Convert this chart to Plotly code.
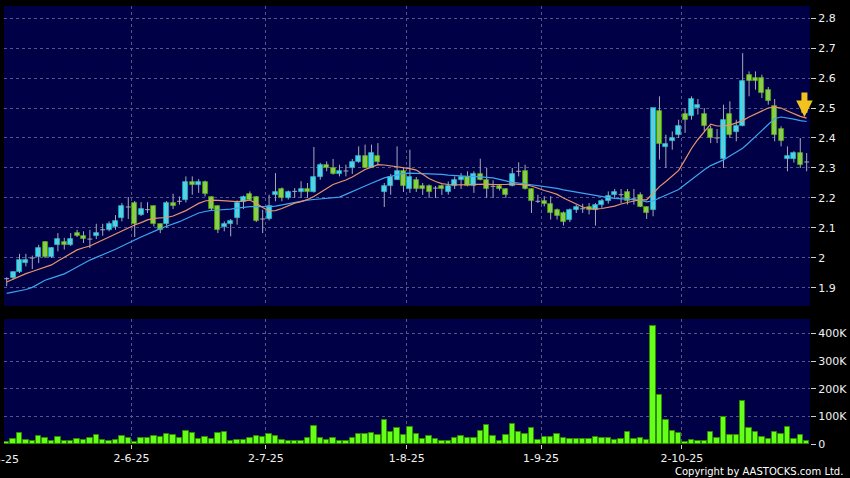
import plotly.graph_objects as go

# ---------------- data ----------------
opens = [1.931, 1.933, 1.952, 1.983, 2.000, 2.002, 2.053, 2.002, 2.043, 2.053,
         2.043, 2.083, 2.073, 2.063, 2.073, 2.094, 2.094, 2.103, 2.133, 2.170,
         2.183, 2.144, 2.161, 2.172, 2.113, 2.113, 2.183, 2.189, 2.192, 2.253,
         2.243, 2.253, 2.202, 2.173, 2.103, 2.113, 2.133, 2.186, 2.213, 2.203,
         2.130, 2.130, 2.210, 2.230, 2.200, 2.222, 2.220, 2.230, 2.220, 2.270,
         2.309, 2.300, 2.280, 2.290, 2.300, 2.320, 2.339, 2.300, 2.339, 2.220,
         2.241, 2.261, 2.289, 2.230, 2.259, 2.239, 2.239, 2.233, 2.239, 2.219,
         2.241, 2.259, 2.270, 2.241, 2.280, 2.259, 2.239, 2.239, 2.230, 2.239,
         2.289, 2.289, 2.230, 2.189, 2.191, 2.180, 2.161, 2.150, 2.128, 2.159,
         2.164, 2.170, 2.159, 2.178, 2.189, 2.211, 2.211, 2.219, 2.197, 2.211,
         2.170, 2.159, 2.489, 2.370, 2.389, 2.411, 2.481, 2.472, 2.500, 2.480,
         2.430, 2.400, 2.330, 2.480, 2.420, 2.441, 2.610, 2.600, 2.600, 2.561,
         2.508, 2.430, 2.330, 2.330, 2.350, 2.320]
highs = [1.936, 1.955, 2.014, 2.014, 2.008, 2.044, 2.056, 2.036, 2.083, 2.067,
         2.083, 2.094, 2.089, 2.094, 2.114, 2.114, 2.122, 2.143, 2.183, 2.203,
         2.190, 2.186, 2.186, 2.175, 2.115, 2.190, 2.214, 2.205, 2.272, 2.272,
         2.263, 2.258, 2.205, 2.175, 2.122, 2.130, 2.192, 2.208, 2.222, 2.206,
         2.161, 2.211, 2.283, 2.235, 2.225, 2.233, 2.256, 2.250, 2.370, 2.317,
         2.322, 2.330, 2.311, 2.311, 2.330, 2.372, 2.378, 2.378, 2.383, 2.250,
         2.280, 2.372, 2.300, 2.361, 2.270, 2.250, 2.245, 2.240, 2.245, 2.255,
         2.272, 2.283, 2.289, 2.289, 2.331, 2.300, 2.259, 2.245, 2.232, 2.300,
         2.319, 2.311, 2.232, 2.211, 2.206, 2.206, 2.165, 2.155, 2.165, 2.178,
         2.181, 2.183, 2.183, 2.197, 2.222, 2.230, 2.230, 2.230, 2.230, 2.219,
         2.172, 2.500, 2.539, 2.411, 2.422, 2.461, 2.500, 2.539, 2.530, 2.500,
         2.441, 2.430, 2.511, 2.522, 2.461, 2.683, 2.622, 2.622, 2.611, 2.570,
         2.530, 2.439, 2.372, 2.356, 2.400, 2.350]
lows = [1.906, 1.928, 1.950, 1.972, 1.963, 1.983, 2.000, 2.000, 2.022, 2.028,
        2.040, 2.070, 2.050, 2.033, 2.063, 2.074, 2.089, 2.094, 2.122, 2.130,
        2.070, 2.140, 2.150, 2.105, 2.083, 2.100, 2.163, 2.178, 2.185, 2.211,
        2.217, 2.205, 2.160, 2.083, 2.089, 2.072, 2.111, 2.163, 2.190, 2.120,
        2.083, 2.125, 2.189, 2.189, 2.195, 2.200, 2.200, 2.200, 2.218, 2.261,
        2.289, 2.278, 2.272, 2.272, 2.280, 2.317, 2.300, 2.300, 2.311, 2.170,
        2.211, 2.261, 2.220, 2.217, 2.220, 2.210, 2.200, 2.200, 2.210, 2.211,
        2.230, 2.230, 2.239, 2.217, 2.259, 2.200, 2.200, 2.225, 2.200, 2.239,
        2.272, 2.228, 2.150, 2.183, 2.172, 2.128, 2.128, 2.108, 2.120, 2.150,
        2.150, 2.145, 2.108, 2.167, 2.181, 2.200, 2.183, 2.178, 2.178, 2.170,
        2.130, 2.139, 2.328, 2.300, 2.361, 2.400, 2.417, 2.461, 2.478, 2.422,
        2.383, 2.383, 2.300, 2.400, 2.389, 2.439, 2.539, 2.561, 2.533, 2.511,
        2.389, 2.372, 2.289, 2.318, 2.300, 2.289]
closes = [1.931, 1.952, 1.992, 1.992, 2.000, 2.033, 2.002, 2.033, 2.063, 2.043,
          2.063, 2.073, 2.063, 2.063, 2.083, 2.094, 2.113, 2.123, 2.174, 2.170,
          2.113, 2.163, 2.161, 2.113, 2.094, 2.183, 2.172, 2.189, 2.253, 2.243,
          2.253, 2.213, 2.163, 2.094, 2.113, 2.123, 2.183, 2.203, 2.193, 2.124,
          2.130, 2.174, 2.221, 2.200, 2.220, 2.222, 2.230, 2.220, 2.270, 2.309,
          2.300, 2.280, 2.290, 2.290, 2.320, 2.339, 2.300, 2.350, 2.320, 2.241,
          2.270, 2.290, 2.239, 2.270, 2.230, 2.230, 2.219, 2.233, 2.230, 2.239,
          2.259, 2.270, 2.239, 2.280, 2.259, 2.230, 2.239, 2.230, 2.209, 2.280,
          2.289, 2.230, 2.189, 2.189, 2.180, 2.150, 2.139, 2.119, 2.159, 2.170,
          2.164, 2.159, 2.178, 2.189, 2.208, 2.219, 2.211, 2.189, 2.197, 2.170,
          2.150, 2.500, 2.381, 2.381, 2.400, 2.441, 2.461, 2.530, 2.510, 2.441,
          2.400, 2.400, 2.459, 2.411, 2.441, 2.591, 2.591, 2.591, 2.550, 2.522,
          2.411, 2.389, 2.341, 2.350, 2.311, 2.320]
volumes_k = [8, 19, 39, 14, 12, 28, 20, 12, 24, 11,
             12, 19, 14, 23, 34, 13, 12, 16, 30, 23,
             8, 20, 20, 30, 25, 36, 34, 22, 47, 39,
             17, 27, 18, 39, 43, 11, 16, 16, 23, 29,
             24, 36, 28, 14, 10, 10, 10, 23, 65, 20,
             13, 23, 12, 12, 22, 36, 35, 40, 33, 88,
             42, 58, 34, 60, 36, 19, 30, 18, 12, 12,
             20, 28, 23, 23, 48, 70, 30, 12, 33, 72,
             45, 36, 58, 16, 24, 27, 36, 20, 18, 18,
             18, 18, 27, 22, 22, 16, 18, 45, 18, 23,
             16, 428, 177, 87, 48, 40, 8, 14, 10, 11,
             42, 23, 99, 34, 34, 157, 58, 42, 24, 19,
             45, 36, 63, 19, 33, 12]
ma10 = [1.920, 1.930, 1.940, 1.948, 1.955, 1.962, 1.970, 1.977, 1.990, 2.003,
        2.015, 2.027, 2.034, 2.040, 2.050, 2.060, 2.070, 2.080, 2.092, 2.100,
        2.110, 2.118, 2.127, 2.132, 2.134, 2.135, 2.140, 2.148, 2.158, 2.170,
        2.182, 2.190, 2.193, 2.192, 2.190, 2.188, 2.188, 2.190, 2.193, 2.182,
        2.168, 2.157, 2.158, 2.165, 2.175, 2.183, 2.188, 2.195, 2.205, 2.220,
        2.232, 2.245, 2.252, 2.260, 2.270, 2.283, 2.295, 2.303, 2.311, 2.310,
        2.307, 2.305, 2.302, 2.298, 2.293, 2.280, 2.265, 2.255, 2.248, 2.245,
        2.244, 2.244, 2.245, 2.246, 2.247, 2.246, 2.245, 2.244, 2.245, 2.247,
        2.246, 2.244, 2.240, 2.232, 2.225, 2.219, 2.212, 2.200, 2.190, 2.180,
        2.170, 2.165, 2.163, 2.165, 2.169, 2.173, 2.180, 2.186, 2.190, 2.194,
        2.194, 2.215, 2.238, 2.255, 2.272, 2.292, 2.328, 2.365, 2.395, 2.422,
        2.446, 2.440, 2.440, 2.443, 2.450, 2.458, 2.470, 2.480, 2.490, 2.500,
        2.503, 2.500, 2.490, 2.480, 2.472, 2.466]
ma20 = [1.882, 1.886, 1.890, 1.895, 1.902, 1.915, 1.926, 1.933, 1.940, 1.947,
        1.958, 1.970, 1.982, 1.993, 2.002, 2.010, 2.020, 2.029, 2.040, 2.050,
        2.060, 2.070, 2.080, 2.089, 2.098, 2.106, 2.113, 2.121, 2.131, 2.140,
        2.150, 2.155, 2.159, 2.160, 2.161, 2.163, 2.166, 2.169, 2.171, 2.171,
        2.170, 2.171, 2.173, 2.177, 2.182, 2.186, 2.190, 2.193, 2.195, 2.197,
        2.199, 2.201, 2.203, 2.212, 2.222, 2.231, 2.240, 2.249, 2.258, 2.267,
        2.272, 2.278, 2.282, 2.283, 2.282, 2.281, 2.281, 2.281, 2.279, 2.276,
        2.274, 2.273, 2.272, 2.272, 2.270, 2.269, 2.267, 2.262, 2.257, 2.252,
        2.250, 2.247, 2.244, 2.242, 2.240, 2.237, 2.232, 2.227, 2.223, 2.220,
        2.217, 2.213, 2.209, 2.205, 2.201, 2.199, 2.197, 2.196, 2.195, 2.193,
        2.187, 2.190, 2.200, 2.210, 2.219, 2.228, 2.245, 2.262, 2.278, 2.294,
        2.308, 2.317, 2.327, 2.340, 2.353, 2.366, 2.385, 2.405, 2.425, 2.445,
        2.465, 2.470, 2.467, 2.463, 2.458, 2.455]

# first trading day of each month (index of the candle) and its label
tick_day_index = [19, 40, 62, 83, 105]
tick_labels = ["2-6-25", "2-7-25", "1-8-25", "1-9-25", "2-10-25"]
first_tick_label = "2-5-25"
price_ticks = [1.9, 2.0, 2.1, 2.2, 2.3, 2.4, 2.5, 2.6, 2.7, 2.8]
vol_tick_vals = [0, 100000, 200000, 300000, 400000]
vol_tick_text = ["0", "100K", "200K", "300K", "400K"]
copyright_text = "Copyright by AASTOCKS.com Ltd."

# ---------------- styles ----------------
BG = "#000000"
PLOT_BG = "#000046"
GRID = "#55558a"
UP = "#36e0f0"
UP_EDGE = "#1eaec4"
DOWN = "#7fdc22"
DOWN_EDGE = "#4c9a12"
WICK = "#a8a8b8"
VOL = "#66ff1a"
VOL_EDGE = "#2e8c00"
MA10_C = "#e8946a"
MA20_C = "#3ea4ee"
FONT = "DejaVu Sans"
DASH = "3px,3px"

n = len(closes)
idx = list(range(n))

# wicks
wx, wy = [], []
for i in idx:
    wx += [i, i, None]
    wy += [lows[i], highs[i], None]

# doji (open == close) horizontal strokes
dx, dy = [], []
for i in idx:
    if abs(closes[i] - opens[i]) < 1e-9:
        dx += [i - 0.38, i + 0.38, None]
        dy += [opens[i], opens[i], None]

up_x, up_b, up_h, dn_x, dn_b, dn_h = [], [], [], [], [], []
for i in idx:
    o, c = opens[i], closes[i]
    if c > o:
        up_x.append(i); up_b.append(o); up_h.append(c - o)
    elif c < o:
        dn_x.append(i); dn_b.append(c); dn_h.append(o - c)

fig = go.Figure()
fig.add_trace(go.Scatter(x=wx, y=wy, mode="lines", line=dict(color=WICK, width=1),
                         hoverinfo="skip", xaxis="x", yaxis="y"))
fig.add_trace(go.Scatter(x=dx, y=dy, mode="lines", line=dict(color=WICK, width=1),
                         hoverinfo="skip", xaxis="x", yaxis="y"))
fig.add_trace(go.Bar(x=up_x, y=up_h, base=up_b, width=0.8,
                     marker=dict(color=UP, line=dict(color=UP_EDGE, width=0.8)),
                     xaxis="x", yaxis="y"))
fig.add_trace(go.Bar(x=dn_x, y=dn_h, base=dn_b, width=0.8,
                     marker=dict(color=DOWN, line=dict(color=DOWN_EDGE, width=0.8)),
                     xaxis="x", yaxis="y"))
fig.add_trace(go.Scatter(x=idx, y=ma20, mode="lines", line=dict(color=MA20_C, width=1.2),
                         xaxis="x", yaxis="y"))
fig.add_trace(go.Scatter(x=idx, y=ma10, mode="lines", line=dict(color=MA10_C, width=1.2),
                         xaxis="x", yaxis="y"))
fig.add_trace(go.Bar(x=idx, y=[v * 1000 for v in volumes_k], width=0.86,
                     marker=dict(color=VOL, line=dict(color=VOL_EDGE, width=1)),
                     xaxis="x2", yaxis="y2"))

tickpos = [t + 0.5 for t in tick_day_index]
xr = [-0.42, n - 0.48]

axis_font = dict(family=FONT, size=11, color="#f2f2f2")
grid_common = dict(showgrid=True, gridcolor=GRID, griddash=DASH, gridwidth=1,
                   zeroline=False, showline=False, automargin=False)
fig.update_layout(
    width=850, height=478,
    margin=dict(l=4, r=40, t=6, b=34, autoexpand=False),
    paper_bgcolor=BG, plot_bgcolor=PLOT_BG,
    showlegend=False, barmode="overlay", bargap=0,
    font=axis_font,
    xaxis=dict(domain=[0, 1], anchor="y", range=xr, tickvals=tickpos, ticktext=tick_labels,
               showticklabels=False, ticks="", **grid_common),
    yaxis=dict(domain=[0.3151, 1], anchor="x", side="right", range=[1.84, 2.84],
               tickvals=price_ticks, ticks="outside", ticklen=5, tickcolor="#d0d0d0",
               tickfont=axis_font, **grid_common),
    xaxis2=dict(domain=[0, 1], anchor="y2", range=xr, matches="x", tickvals=tickpos,
                ticktext=tick_labels, ticks="outside", ticklen=4, tickcolor="#d0d0d0",
                tickfont=axis_font, **grid_common),
    yaxis2=dict(domain=[0, 0.2854], anchor="x2", side="right", range=[0, 452000],
                tickvals=vol_tick_vals, ticktext=vol_tick_text, ticks="outside",
                ticklen=5, tickcolor="#d0d0d0", tickfont=axis_font, **grid_common),
)

# partially visible first month label at the far left edge
fig.add_annotation(x=-0.004, y=0, xref="paper", yref="paper",
                   text=first_tick_label, showarrow=False, xanchor="center",
                   yanchor="top", yshift=-7, font=axis_font)
# copyright
fig.add_annotation(x=1.0434, y=-0.063, xref="paper", yref="paper", text=copyright_text,
                   showarrow=False, xanchor="right", yanchor="middle",
                   font=dict(family=FONT, size=10, color="#ffffff"))
# yellow arrow marker at the end of the moving averages
fig.add_annotation(x=idx[-1] - 0.35, y=ma10[-1] + 0.004, xref="x", yref="y", text="",
                   showarrow=True, arrowhead=2, arrowsize=0.55, arrowwidth=6,
                   arrowcolor="#f4c21c", ax=0, ay=-26, standoff=0)

# the page should hold the 850x478 figure flush with the window edges
fig.write_html("out.html",
               config={"displayModeBar": False},
               post_script="document.body.style.margin='0';"
                           "document.body.style.background='#000000';"
                           "document.body.style.overflow='hidden';")
